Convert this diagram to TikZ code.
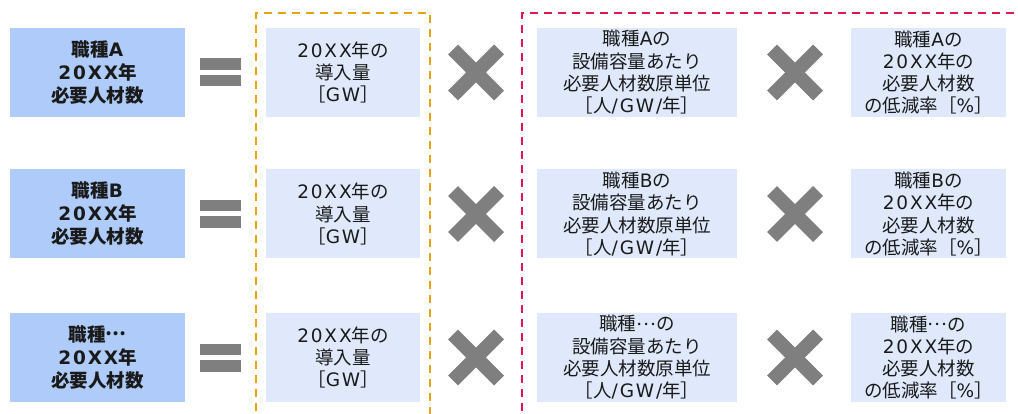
\documentclass[tikz,border=0pt]{standalone}
\usepackage{fontspec}
\setmainfont{Noto Sans CJK JP}
\newfontfamily\latfont[LetterSpace=10]{DejaVu Sans}
\newcommand\lat[1]{{\latfont #1}}
\newcommand\middots{\raisebox{0.32em}{…}}
\definecolor{boxblue}{RGB}{174,203,250}
\definecolor{boxgray}{RGB}{223,233,251}
\definecolor{symgray}{RGB}{127,127,127}
\definecolor{txt}{RGB}{26,26,26}
\definecolor{dashorange}{RGB}{230,166,20}
\definecolor{dashred}{RGB}{224,22,80}
\begin{document}
\begin{tikzpicture}[x=1pt,y=-1pt,
  bluebox/.style={fill=boxblue, minimum width=175pt, minimum height=89pt, inner sep=0pt, align=center, text=txt, font=\bfseries\fontsize{18.5}{23}\selectfont},
  graybox/.style={fill=boxgray, minimum height=89pt, inner sep=0pt, align=center, text=txt, font=\fontsize{18.5}{22.3}\selectfont},
  eqbar/.style={fill=symgray},
  crossline/.style={draw=symgray, line width=14pt},
  orangedash/.style={draw=dashorange, line width=2.2pt, dash pattern=on 8pt off 6pt},
  reddash/.style={draw=dashred, line width=2.2pt, dash pattern=on 8pt off 6pt}]
\useasboundingbox (0,0) rectangle (1018,414);
\fill[white] (0,0) rectangle (1018,414);
% dashed groups
\coordinate (oa) at (256,425);
\coordinate (ob) at (256,13);
\coordinate (oc) at (430,13);
\coordinate (od) at (430,425);
\draw[orangedash] (oa) -- (ob) -- (oc) -- (od);
\coordinate (ra) at (522,425);
\coordinate (rb) at (522,13);
\coordinate (rc) at (1030,13);
\draw[reddash] (ra) -- (rb) -- (rc);
\foreach \r/\cy/\lab in {1/72.5/\lat{A}, 2/214/\lat{B}, 3/357.5/\middots}{
  \node[bluebox] (need\r) at (97.5,\cy) {職種\lab\\\lat{20XX}年\\必要人材数};
  \fill[eqbar] (200,\cy-14) rectangle (241,\cy-2.5);
  \fill[eqbar] (200,\cy+2.5) rectangle (241,\cy+14);
  \node[graybox, minimum width=154pt] (intro\r) at (343,\cy) {\lat{20XX}年の\\導入量\\［\lat{GW}］};
  \draw[crossline] (476-23,\cy-23) -- (476+23,\cy+23);
  \draw[crossline] (476-23,\cy+23) -- (476+23,\cy-23);
  \node[graybox, minimum width=200pt] (unit\r) at (637,\cy) {職種\lab の\\設備容量あたり\\必要人材数原単位\\［人\lat{/GW/}年］};
  \draw[crossline] (795-23,\cy-23) -- (795+23,\cy+23);
  \draw[crossline] (795-23,\cy+23) -- (795+23,\cy-23);
  \node[graybox, minimum width=155pt] (rate\r) at (928.5,\cy) {職種\lab の\\\lat{20XX}年の\\必要人材数\\の低減率［\lat{\%}］};
}
\end{tikzpicture}
\end{document}
